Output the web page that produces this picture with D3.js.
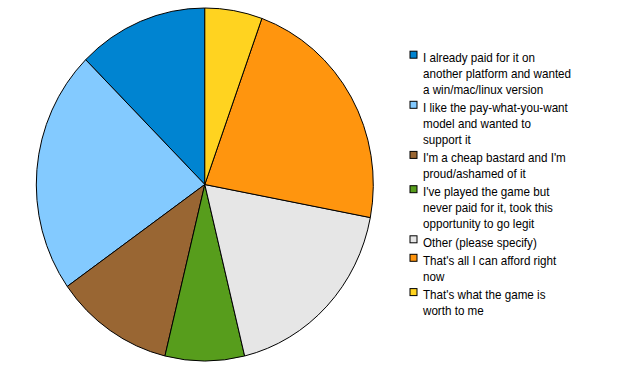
<!DOCTYPE html>
<html>
<head>
<meta charset="utf-8">
<script src="https://cdn.jsdelivr.net/npm/d3@7"></script>
<style>
  body { margin: 0; background: #fff; }
  svg { display: block; }
</style>
</head>
<body>
<svg id="chart" width="628" height="374"></svg>
<script>
// answers, in legend order (each entry is the wrapped lines of the label)
var categories = [
  ["I already paid for it on", "another platform and wanted", "a win/mac/linux version"],
  ["I like the pay-what-you-want", "model and wanted to", "support it"],
  ["I'm a cheap bastard and I'm", "proud/ashamed of it"],
  ["I've played the game but", "never paid for it, took this", "opportunity to go legit"],
  ["Other (please specify)"],
  ["That's all I can afford right", "now"],
  ["That's what the game is", "worth to me"]
];
// share of answers, percent
var values = [12.5, 22.3, 11.4, 7.6, 18.2, 22.5, 5.5];
var colors = ["#0084d1", "#83caff", "#996633", "#579d1c", "#e6e6e6", "#ff950e", "#ffd320"];

var svg = d3.select("#chart");

var cx = 204.8, cy = 184.5,
    rx = 168.5, ry = 176.5;

// pie goes counter-clockwise from 12 o'clock
var pie = d3.pie()
    .sort(null)
    .startAngle(0)
    .endAngle(-2 * Math.PI);

var arc = d3.arc().innerRadius(0).outerRadius(ry);

var idx = d3.range(values.length);

svg.append("g")
    .attr("transform", "translate(" + cx + "," + cy + ") scale(" + (rx / ry) + ",1)")
  .selectAll("path")
  .data(pie.value(i => values[i])(idx))
  .enter()
  .append("path")
    .attr("d", arc)
    .attr("fill", d => colors[d.data])
    .attr("stroke", "#000")
    .attr("stroke-width", 1)
    .attr("stroke-linejoin", "round")
    .attr("vector-effect", "non-scaling-stroke");

// legend
var lineH = 15.8, gap = 2.7, tx = 423;
var legend = svg.append("g")
    .attr("font-family", "Arial, 'Liberation Sans', sans-serif")
    .attr("font-size", 12.8)
    .attr("fill", "#000");

var y = 62;
categories.forEach(function(lines, i) {
  legend.append("rect")
    .attr("x", 410)
    .attr("y", y - 10.8)
    .attr("width", 7)
    .attr("height", 7)
    .attr("fill", colors[i])
    .attr("stroke", "#000")
    .attr("stroke-width", 1);

  // text a bit narrower, like the original renderer
  var t = legend.append("text")
    .attr("transform", "translate(" + tx + ",0) scale(0.91,1)")
    .attr("x", 0)
    .attr("y", y);
  lines.forEach(function(s, j) {
    t.append("tspan")
      .attr("x", 0)
      .attr("y", y + j * lineH)
      .text(s);
  });
  y += lines.length * lineH + gap;
});
</script>
</body>
</html>
